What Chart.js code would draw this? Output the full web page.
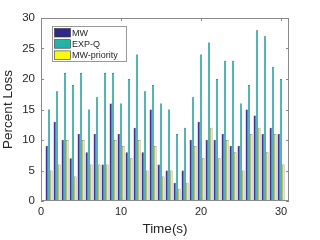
<!DOCTYPE html>
<html>
<head>
<meta charset="utf-8">
<script src="https://cdn.jsdelivr.net/npm/chart.js@4"></script>
<style>
  body { margin: 0; background: #fff; }
</style>
</head>
<body>
<canvas id="lossChart" width="320" height="240"></canvas>
<script>
var times = [1, 2, 3, 4, 5, 6, 7, 8, 9, 10, 11, 12, 13, 14, 15, 16, 17, 18, 19, 20, 21, 22, 23, 24, 25, 26, 27, 28, 29, 30];
var mw = [9, 13, 10, 7, 11, 8, 11, 6, 16, 11, 8, 12, 8, 15, 6, 5, 3, 5, 10, 13, 10, 10, 11, 9, 9, 15, 14, 11, 12, 11];
var expQ = [15, 18, 21, 19, 21, 15, 17, 21, 21, 16, 20, 24, 18, 19, 16, 15, 11, 12, 17, 24, 26, 20, 23, 23, 16, 19, 28, 27, 22, 20];
var mwPriority = [5, 6, 10, 4, 10, 6, 6, 6, 10, 9, 7, 10, 5, 9, 4, 5, 2, 3, 9, 7, 12, 7, 10, 8, 5, 11, 12, 8, 11, 6];
var xTicks = [0, 10, 20, 30];

var FONT = "'Liberation Sans', Arial, sans-serif";

function points(values) {
  return values.map(function (v, i) { return { x: times[i], y: v }; });
}

// matlab style box with inward ticks
var framePlugin = {
  id: "frame",
  afterDatasetsDraw: function (chart) {
    var ctx = chart.ctx, a = chart.chartArea;
    var x = chart.scales.x, y = chart.scales.y;
    ctx.save();
    ctx.strokeStyle = "#8a8a8a";
    ctx.lineWidth = 1;
    ctx.strokeRect(a.left + 0.5, a.top + 0.5, a.right - a.left - 1, a.bottom - a.top - 1);
    ctx.beginPath();
    x.ticks.forEach(function (t) {
      var px = Math.round(x.getPixelForValue(t.value)) + 0.5;
      ctx.moveTo(px, a.bottom); ctx.lineTo(px, a.bottom - 3);
      ctx.moveTo(px, a.top); ctx.lineTo(px, a.top + 3);
    });
    y.ticks.forEach(function (t) {
      var py = Math.round(y.getPixelForValue(t.value)) + 0.5;
      ctx.moveTo(a.left, py); ctx.lineTo(a.left + 3, py);
      ctx.moveTo(a.right, py); ctx.lineTo(a.right - 3, py);
    });
    ctx.stroke();
    ctx.restore();
  }
};

// legend box inside the axes, top left
var boxLegend = {
  id: "boxLegend",
  afterDraw: function (chart) {
    var ctx = chart.ctx, a = chart.chartArea;
    var left = a.left + 11, top = a.top + 8;
    ctx.save();
    ctx.fillStyle = "#fff";
    ctx.fillRect(left, top, 74, 35);
    ctx.strokeStyle = "#9a9a9a";
    ctx.lineWidth = 1;
    ctx.strokeRect(left + 0.5, top + 0.5, 74, 35);
    ctx.font = "9px " + FONT;
    ctx.textBaseline = "middle";
    chart.data.datasets.forEach(function (ds, i) {
      var ry = top + 2.5 + i * 11.2;
      ctx.fillStyle = ds.backgroundColor;
      ctx.fillRect(left + 2.5, ry, 16, 8.5);
      ctx.strokeStyle = "#333";
      ctx.lineWidth = 0.6;
      ctx.strokeRect(left + 2.5, ry, 16, 8.5);
      ctx.fillStyle = "#262626";
      ctx.fillText(ds.label, left + 20, ry + 4.8);
    });
    ctx.restore();
  }
};

var lossChart = new Chart(document.getElementById("lossChart").getContext("2d"), {
  type: "bar",
  data: {
    datasets: [
      { label: "MW", data: points(mw), backgroundColor: "rgb(46,40,140)" },
      { label: "EXP-Q", data: points(expQ), backgroundColor: "rgb(32,180,170)" },
      { label: "MW-priority", data: points(mwPriority), backgroundColor: "rgb(249,251,14)" }
    ]
  },
  options: {
    responsive: false,
    animation: false,
    layout: { padding: { top: 18, right: 31, left: 0, bottom: 0 } },
    datasets: {
      bar: {
        categoryPercentage: 0.86,
        barPercentage: 1,
        borderWidth: 0.5,
        borderColor: "#333"
      }
    },
    plugins: {
      legend: { display: false },
      tooltip: { enabled: false }
    },
    scales: {
      x: {
        type: "linear",
        min: 0,
        max: 31,
        offset: false,
        grid: { display: false, drawTicks: false, offset: false },
        border: { display: false },
        afterBuildTicks: function (scale) {
          scale.ticks = xTicks.map(function (v) { return { value: v }; });
        },
        afterFit: function (scale) { scale.height = 39; },
        ticks: {
          padding: 4,
          maxRotation: 0,
          color: "#262626",
          font: { family: FONT, size: 11 }
        },
        title: {
          display: true,
          text: "Time(s)",
          color: "#262626",
          padding: { top: 0, bottom: 3 },
          font: { family: FONT, size: 13.5 }
        }
      },
      y: {
        min: 0,
        max: 30,
        grid: { display: false, drawTicks: false },
        border: { display: false },
        afterFit: function (scale) { scale.width = 41; },
        ticks: {
          stepSize: 5,
          padding: 6,
          color: "#262626",
          font: { family: FONT, size: 11.5 }
        },
        title: {
          display: true,
          text: "Percent Loss",
          color: "#262626",
          padding: { top: 0, bottom: 0 },
          font: { family: FONT, size: 13.5 }
        }
      }
    }
  },
  plugins: [framePlugin, boxLegend]
});
</script>
</body>
</html>
